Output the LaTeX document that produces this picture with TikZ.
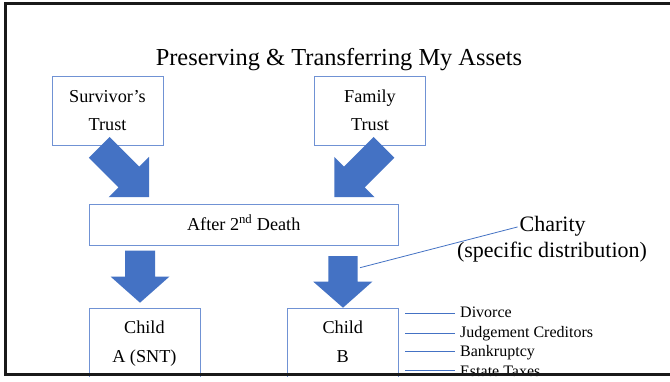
\documentclass[tikz,border=0pt]{standalone}
\usepackage{fontspec}
\setmainfont{Liberation Serif}
\newfontfamily\boxfont{Liberation Serif}
\definecolor{arrowblue}{RGB}{68,114,196}
\definecolor{boxblue}{RGB}{112,146,212}
\begin{document}
\begin{tikzpicture}[x=1pt,y=-1pt,
  box/.style={draw=boxblue,line width=1pt,fill=white,inner sep=0pt},
  txt/.style={inner sep=0pt,anchor=base,font=\boxfont\fontsize{18.2}{20}\selectfont},
  bigtxt/.style={inner sep=0pt,anchor=base,font=\boxfont\fontsize{22}{26}\selectfont},
  side/.style={inner sep=0pt,anchor=base west,font=\boxfont\fontsize{16}{18}\selectfont},
  blockarrow/.style={fill=arrowblue,draw=none},
  thinline/.style={draw=arrowblue,line width=0.8pt}]
\useasboundingbox (0,0) rectangle (670,381);
\fill[white] (0,0) rectangle (670,381);
\begin{scope}
\clip (0,0) rectangle (670,376);
% boxes
\node[box,minimum width=111pt,minimum height=69.3pt] (surv) at (107.8,111.3) {};
\node[box,minimum width=111.4pt,minimum height=69.3pt] (fam) at (370,111.3) {};
\node[box,minimum width=309pt,minimum height=40.7pt] (after) at (243.8,225.3) {};
\node[box,minimum width=110.7pt,minimum height=91.7pt] (childA) at (144.7,354.2) {};
\node[box,minimum width=111pt,minimum height=91.7pt] (childB) at (342.8,354.2) {};
% title
\node[inner sep=0pt,anchor=base,font=\boxfont\fontsize{24.4}{28}\selectfont] (title) at (339,65) {Preserving \& Transferring My Assets};
% box texts
\node[txt] (survA) at (107.5,102.3) {Survivor’s};
\node[txt] (survB) at (107.5,130) {Trust};
\node[txt] (famA) at (370,102.3) {Family};
\node[txt] (famB) at (370,130) {Trust};
\node[txt] (aftertxt) at (243.7,230) {After 2\textsuperscript{nd} Death};
\node[txt] (chAa) at (144.4,333.3) {Child};
\node[txt] (chAb) at (144.4,362.3) {A (SNT)};
\node[txt] (chBa) at (342.8,333.3) {Child};
\node[txt] (chBb) at (342.8,362.3) {B};
% block arrows
\fill[blockarrow] (109.6,136.9) -- (139.3,166.6) -- (149.1,156.8) -- (149.1,197.2) -- (108.7,197.2) -- (118.5,187.4) -- (88.8,157.7) -- cycle;
\fill[blockarrow] (373.6,136.9) -- (344.1,166.6) -- (334.3,156.8) -- (334.3,197.2) -- (374.5,197.2) -- (364.7,187.4) -- (394.4,157.7) -- cycle;
\fill[blockarrow] (125,250.7) -- (155,250.7) -- (155,276.7) -- (169.3,276.7) -- (140,302.7) -- (110.7,276.7) -- (125,276.7) -- cycle;
\fill[blockarrow] (328.3,256) -- (357.7,256) -- (357.7,281.7) -- (372.3,281.7) -- (343,307.7) -- (313.3,281.7) -- (328.3,281.7) -- cycle;
% charity
\node[bigtxt] (charity) at (552.7,231.7) {Charity};
\node[bigtxt] (charspec) at (552,257.5) {(specific distribution)};
\coordinate (chstart) at (360,267.7);
\draw[thinline,shorten >=2pt] (chstart) -- (charity.west);
% side list
\node[side] (div) at (460,317) {Divorce};
\node[side] (jud) at (460,337) {Judgement Creditors};
\node[side] (bank) at (460,356.5) {Bankruptcy};
\node[side] (est) at (460,376) {Estate Taxes};
\coordinate (s1) at (405,313.3);
\coordinate (s2) at (405,333.3);
\coordinate (s3) at (405,351.7);
\coordinate (s4) at (405,370);
\draw[thinline,shorten >=5pt] (s1) -- (s1 -| div.west);
\draw[thinline,shorten >=5pt] (s2) -- (s2 -| jud.west);
\draw[thinline,shorten >=5pt] (s3) -- (s3 -| bank.west);
\draw[thinline,shorten >=5pt] (s4) -- (s4 -| est.west);
\end{scope}
% frame
\draw[line width=3pt,color=black!90] (670,3.3) -- (5.5,3.3) -- (5.5,374.7) -- (670,374.7);
\end{tikzpicture}
\end{document}
